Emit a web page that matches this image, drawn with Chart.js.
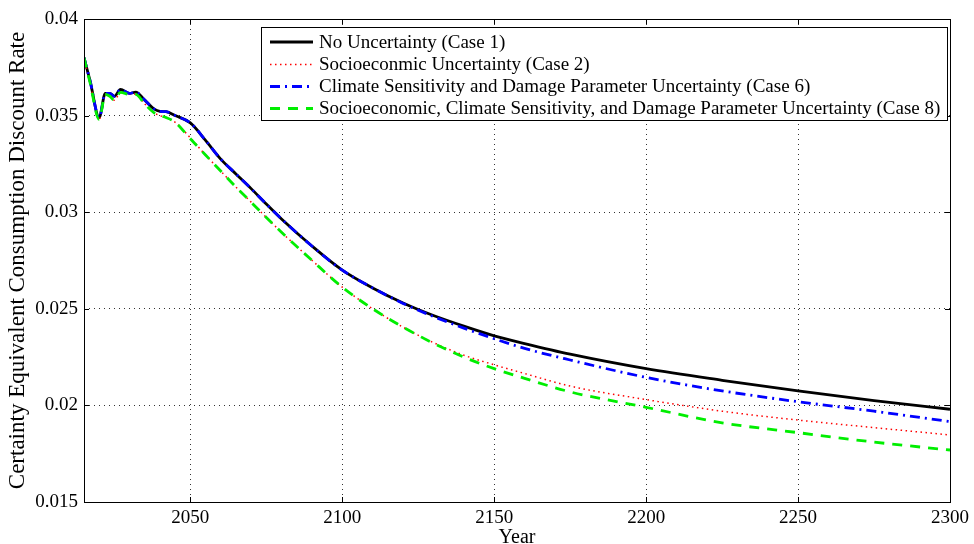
<!DOCTYPE html>
<html>
<head>
<meta charset="utf-8">
<script src="https://cdn.jsdelivr.net/npm/chart.js@4.4.1/dist/chart.umd.min.js"></script>
<style>
html,body{margin:0;padding:0;background:#fff;}
#wrap{width:974px;height:544px;position:relative;}
</style>
</head>
<body>
<div id="wrap"><canvas id="c" width="974" height="544"></canvas></div>
<script>
// ---- data ----
const years = [2015, 2017, 2020, 2022, 2023.5, 2025, 2027, 2030, 2032, 2035, 2038, 2040, 2042, 2045, 2050, 2055, 2060, 2065, 2070, 2075, 2080, 2090, 2100, 2110, 2120, 2130, 2140, 2150, 2160, 2175, 2200, 2225, 2250, 2275, 2300];
const case1 = [0.0380, 0.0368, 0.0349, 0.03615, 0.03615, 0.03600, 0.03635, 0.03615, 0.03622, 0.03580, 0.03535, 0.03522, 0.03520, 0.03500, 0.03462, 0.03372, 0.03275, 0.03198, 0.03122, 0.03042, 0.02965, 0.02825, 0.02700, 0.02608, 0.02530, 0.02465, 0.02410, 0.02360, 0.02320, 0.02265, 0.02190, 0.02130, 0.02075, 0.02025, 0.01980];
const case2 = [0.0380, 0.0367, 0.0348, 0.0361, 0.0360, 0.0358, 0.0362, 0.0361, 0.0361, 0.0356, 0.03515, 0.03500, 0.03490, 0.03465, 0.03385, 0.03296, 0.03213, 0.03130, 0.03052, 0.02973, 0.02896, 0.02751, 0.02612, 0.02500, 0.02405, 0.02325, 0.02260, 0.02210, 0.02165, 0.02100, 0.02030, 0.01970, 0.01924, 0.01885, 0.01847];
const case6 = [0.0380, 0.0368, 0.0349, 0.03615, 0.03615, 0.03600, 0.03635, 0.03615, 0.03622, 0.03580, 0.03535, 0.03522, 0.03520, 0.03500, 0.03462, 0.03372, 0.03275, 0.03198, 0.03122, 0.03042, 0.02965, 0.02825, 0.02700, 0.02608, 0.02528, 0.02460, 0.02400, 0.02345, 0.02295, 0.02235, 0.02145, 0.02075, 0.02019, 0.01970, 0.01916];
const case8 = [0.0380, 0.0367, 0.0348, 0.0361, 0.0360, 0.0358, 0.0362, 0.0361, 0.0361, 0.0356, 0.03515, 0.03500, 0.03490, 0.03465, 0.03380, 0.03296, 0.03213, 0.03130, 0.03052, 0.02973, 0.02896, 0.02751, 0.02612, 0.02500, 0.02405, 0.02322, 0.02250, 0.02190, 0.02140, 0.02070, 0.01990, 0.01910, 0.01859, 0.01810, 0.01769];
const seriesLabels = [
  "No Uncertainty (Case 1)",
  "Socioeconmic Uncertainty (Case 2)",
  "Climate Sensitivity and Damage Parameter Uncertainty (Case 6)",
  "Socioeconomic, Climate Sensitivity, and Damage Parameter Uncertainty (Case 8)"
];
const xTicks = [2050, 2100, 2150, 2200, 2250, 2300];
const yTicks = [0.015, 0.02, 0.025, 0.03, 0.035, 0.04];
const xTitle = "Year";
const yTitle = "Certainty Equivalent Consumption Discount Rate";

const FONT = "'Liberation Serif', 'Times New Roman', serif";
const pts = vals => years.map((x, i) => ({x: x, y: vals[i]}));

const styles = [
  {borderColor: '#000000', borderWidth: 2.8, borderDash: [], order: 4},
  {borderColor: '#ff0000', borderWidth: 1.5, borderDash: [1.5, 3.5], order: 3},
  {borderColor: '#0000ff', borderWidth: 2.8, borderDash: [10, 5, 2, 5], order: 2},
  {borderColor: '#00ee00', borderWidth: 2.8, borderDash: [10, 8], order: 1}
];
const allVals = [case1, case2, case6, case8];

const datasets = allVals.map((v, i) => Object.assign({
  label: seriesLabels[i],
  data: pts(v),
  fill: false,
  pointRadius: 0,
  cubicInterpolationMode: 'monotone'
}, styles[i]));

const framePlugin = {
  id: 'frame',
  afterDraw(chart) {
    const ctx = chart.ctx, a = chart.chartArea;
    const xs = chart.scales.x, ys = chart.scales.y;
    ctx.save();
    ctx.strokeStyle = '#000';
    ctx.lineWidth = 1;
    ctx.setLineDash([]);
    ctx.beginPath();
    xTicks.forEach(t => {
      const px = Math.round(xs.getPixelForValue(t)) + 0.5;
      ctx.moveTo(px, a.bottom); ctx.lineTo(px, a.bottom - 5);
      ctx.moveTo(px, a.top); ctx.lineTo(px, a.top + 5);
    });
    yTicks.forEach(t => {
      const py = Math.round(ys.getPixelForValue(t)) + 0.5;
      ctx.moveTo(a.left, py); ctx.lineTo(a.left + 5, py);
      ctx.moveTo(a.right, py); ctx.lineTo(a.right - 5, py);
    });
    ctx.stroke();
    ctx.strokeRect(Math.round(a.left) + 0.5, Math.round(a.top) + 0.5, Math.round(a.right - a.left), Math.round(a.bottom - a.top));

    // legend
    const lx = 261, ly = 27, lw = 686, lh = 93;
    ctx.fillStyle = '#fff';
    ctx.fillRect(lx, ly, lw, lh);
    ctx.strokeStyle = '#000';
    ctx.strokeRect(lx + 0.5, ly + 0.5, lw, lh);
    const rows = [42, 64.5, 86.5, 108.5];
    chart.data.datasets.forEach((ds, i) => {
      const y = rows[i];
      ctx.beginPath();
      ctx.strokeStyle = ds.borderColor;
      ctx.lineWidth = ds.borderWidth;
      ctx.setLineDash(ds.borderDash || []);
      ctx.moveTo(270, y); ctx.lineTo(313, y);
      ctx.stroke();
      ctx.setLineDash([]);
      ctx.fillStyle = '#000';
      ctx.font = "19px " + FONT;
      ctx.textBaseline = 'middle';
      ctx.textAlign = 'left';
      ctx.fillText(ds.label, 319, y + 1);
    });
    ctx.restore();
  }
};

new Chart(document.getElementById('c'), {
  type: 'line',
  data: {datasets: datasets},
  options: {
    responsive: false,
    animation: false,
    layout: {padding: {left: 0, right: 19, top: 19, bottom: 0}},
    plugins: {legend: {display: false}, tooltip: {enabled: false}},
    scales: {
      x: {
        type: 'linear', min: 2015, max: 2300,
        afterBuildTicks: s => { s.ticks = xTicks.map(v => ({value: v})); },
        afterFit: s => { s.height = 42; },
        grid: {color: '#333', lineWidth: 1, drawTicks: false},
        border: {display: false, dash: [1, 4]},
        ticks: {color: '#000', font: {family: FONT, size: 19}, padding: 5, maxRotation: 0, callback: v => String(v)},
        title: {display: true, text: xTitle, color: '#000', font: {family: FONT, size: 20, lineHeight: 1}, padding: {top: 0, bottom: -4}}
      },
      y: {
        type: 'linear', min: 0.015, max: 0.04,
        afterBuildTicks: s => { s.ticks = yTicks.map(v => ({value: v})); },
        afterFit: s => { s.width = 84; },
        grid: {color: '#333', lineWidth: 1, drawTicks: false},
        border: {display: false, dash: [1, 4]},
        ticks: {color: '#000', font: {family: FONT, size: 19}, padding: 6, callback: v => String(+v.toFixed(3))},
        title: {display: true, text: yTitle, color: '#000', font: {family: FONT, size: 23, lineHeight: 1}, padding: {top: 6, bottom: 0}}
      }
    }
  },
  plugins: [framePlugin]
});
</script>
</body>
</html>
